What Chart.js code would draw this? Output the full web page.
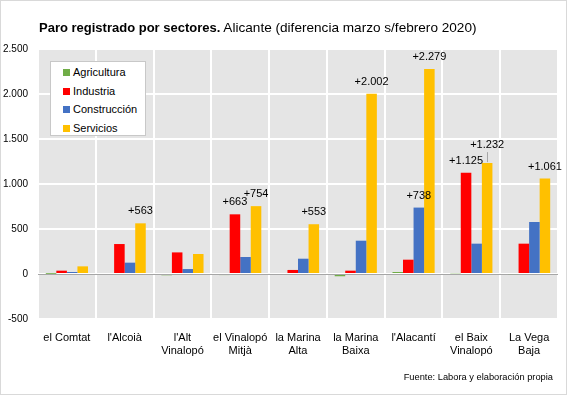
<!DOCTYPE html>
<html>
<head>
<meta charset="utf-8">
<script src="https://cdn.jsdelivr.net/npm/chart.js@4"></script>
<style>
  html, body { margin:0; padding:0; background:#fff; }
  #wrap { position:relative; width:567px; height:395px; box-sizing:border-box; border:1px solid #d9d9d9; overflow:hidden; }
  #chart { position:absolute; left:-1px; top:-1px; }
  #title { position:absolute; left:38px; top:19px; font-family:"Liberation Sans", Arial, sans-serif; font-size:13.6px; color:#000; white-space:nowrap; }
  #title b { font-weight:bold; font-size:13px; }
  #source { position:absolute; right:13px; top:371px; font-family:"Liberation Sans", Arial, sans-serif; font-size:9.3px; color:#000; white-space:nowrap; }
  #legend { position:absolute; left:49px; top:60px; width:96px; height:75px; box-sizing:border-box; background:#fff; border:1px solid #c8c8c8; font-family:"Liberation Sans", Arial, sans-serif; font-size:11px; color:#000; }
  #legend div { position:absolute; left:12px; height:14px; line-height:14px; white-space:nowrap; }
  #legend span.sw { display:inline-block; width:7px; height:7px; margin-right:3px; vertical-align:0px; }
</style>
</head>
<body>
<div id="wrap">
  <canvas id="chart" width="567" height="395"></canvas>
  <div id="title"><b>Paro registrado por sectores.</b> Alicante (diferencia marzo s/febrero 2020)</div>
  <div id="legend"></div>
  <div id="source">Fuente: Labora y elaboración propia</div>
</div>
<script>
// ---- data ----
const categories = [
  ["el Comtat"], ["l'Alcoià"], ["l'Alt", "Vinalopó"], ["el Vinalopó", "Mitjà"],
  ["la Marina", "Alta"], ["la Marina", "Baixa"], ["l'Alacantí"], ["el Baix", "Vinalopó"], ["La Vega", "Baja"]
];
const seriesNames = ["Agricultura", "Industria", "Construcción", "Servicios"];
const agricultura  = [2, 0, -14, -12, 0, -25, 22, 8, -10];
const industria    = [37, 333, 240, 663, 45, 37, 159, 1125, 337];
const construccion = [22, 126, 55, 189, 170, 370, 738, 337, 578];
const servicios    = [85, 563, 222, 754, 553, 2002, 2279, 1232, 1061];
const seriesColors = ["#70ad47", "#ff0000", "#4472c4", "#ffc000"];
const yTicks = [-500, 0, 500, 1000, 1500, 2000, 2500];
// bars that carry a value label: [seriesIndex, categoryIndex]
const labelledBars = [[3,1],[1,3],[3,3],[3,4],[3,5],[2,6],[3,6],[1,7],[3,7],[3,8]];

const seriesValues = [agricultura, industria, construccion, servicios];
const fmt = v => v.toLocaleString('de-DE');

// legend
const leg = document.getElementById('legend');
seriesNames.forEach((n, i) => {
  const d = document.createElement('div');
  d.style.top = (3 + i * 18.7) + 'px';
  d.innerHTML = '<span class="sw" style="background:' + seriesColors[i] + '"></span>' + n;
  leg.appendChild(d);
});

const bgPlugin = {
  id: 'plotBg',
  beforeDraw(chart) {
    const a = chart.chartArea, c = chart.ctx;
    c.save(); c.fillStyle = '#e5e5e5';
    c.fillRect(a.left, a.top, a.right - a.left, a.bottom - a.top);
    c.restore();
  }
};
const zeroLine = {
  id: 'zeroLine',
  beforeDatasetsDraw(chart) {
    const y = Math.round(chart.scales.y.getPixelForValue(0)) + 0.5;
    const a = chart.chartArea, c = chart.ctx;
    c.save(); c.strokeStyle = '#a6a6a6'; c.lineWidth = 1;
    c.beginPath(); c.moveTo(a.left, y); c.lineTo(a.right, y); c.stroke(); c.restore();
  }
};
const valueLabels = {
  id: 'valueLabels',
  afterDatasetsDraw(chart) {
    const c = chart.ctx;
    c.save();
    c.font = '11px "Liberation Sans", Arial, sans-serif';
    c.fillStyle = '#000'; c.textAlign = 'center'; c.textBaseline = 'middle';
    labelledBars.forEach(([s, k]) => {
      const el = chart.getDatasetMeta(s).data[k];
      const v = seriesValues[s][k];
      let lift = 12;
      if (s === 3 && k === 7) {
        lift = 18;
        c.save(); c.strokeStyle = '#a6a6a6'; c.lineWidth = 1;
        c.beginPath(); c.moveTo(Math.round(el.x) + 0.5, el.y - 11); c.lineTo(Math.round(el.x) + 0.5, el.y - 1); c.stroke(); c.restore();
      }
      c.fillText('+' + fmt(v), el.x, el.y - lift);
    });
    c.restore();
  }
};

new Chart(document.getElementById('chart'), {
  type: 'bar',
  data: {
    labels: categories,
    datasets: seriesNames.map((n, i) => ({
      label: n, data: seriesValues[i], backgroundColor: seriesColors[i],
      categoryPercentage: 0.73, barPercentage: 1.0, borderWidth: 0
    }))
  },
  options: {
    responsive: false, animation: false, devicePixelRatio: 1,
    layout: { padding: { top: 49, right: 9, left: 0, bottom: 0 } },
    plugins: { legend: { display: false }, tooltip: { enabled: false }, title: { display: false } },
    scales: {
      x: {
        offset: true,
        grid: { color: '#ffffff', lineWidth: 2, offset: true, drawTicks: false },
        border: { display: false },
        ticks: { color: '#000', font: { family: '"Liberation Sans", Arial, sans-serif', size: 11 }, padding: 12, maxRotation: 0, autoSkip: false },
        afterFit(s) { s.height = 76; }
      },
      y: {
        min: -500, max: 2500,
        afterBuildTicks(s) { s.ticks = yTicks.map(v => ({ value: v })); },
        grid: { color: '#ffffff', lineWidth: 2, drawTicks: false },
        border: { display: false },
        ticks: { color: '#000', font: { family: '"Liberation Sans", Arial, sans-serif', size: 10 }, padding: 10, callback: v => fmt(v) },
        afterFit(s) { s.width = 38; }
      }
    }
  },
  plugins: [bgPlugin, zeroLine, valueLabels]
});
</script>
</body>
</html>
